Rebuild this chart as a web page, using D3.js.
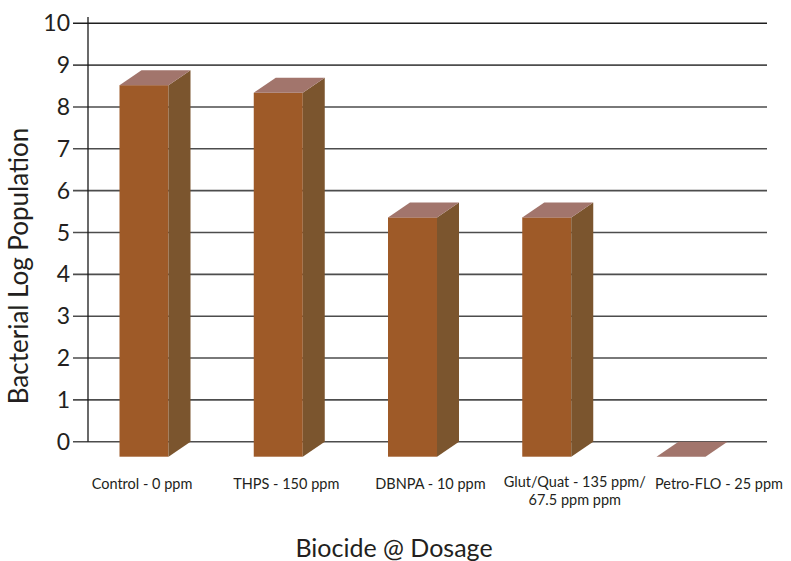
<!DOCTYPE html>
<html>
<head>
<meta charset="utf-8">
<script src="https://cdn.jsdelivr.net/npm/d3@7"></script>
<style>
  body { margin: 0; background: #fff; }
  svg { display: block; }
</style>
</head>
<body>
<div id="chart"></div>
<script>
var categories = ['Control - 0 ppm', 'THPS - 150 ppm', 'DBNPA - 10 ppm', 'Glut/Quat - 135 ppm/\n67.5 ppm ppm', 'Petro-FLO - 25  ppm'];
var logPopulation = [8.88, 8.7, 5.72, 5.72, 0];
var yTicks = [0, 1, 2, 3, 4, 5, 6, 7, 8, 9, 10];

var colors = {
  front: '#9E5A28',
  side: '#7B552E',
  top: '#A2756C',
  text: '#231F20',
  grid: '#4D4D4D'
};

var dims = {
  width: 791,
  height: 561,
  axisX: 88,
  gridLeft: 73,
  gridRight: 767,
  barWidth: 49,
  depthX: 22,
  depthY: 15
};

var svg = d3.select('#chart').append('svg')
  .attr('width', dims.width)
  .attr('height', dims.height);

var y = d3.scaleLinear().domain([0, 10]).range([441.7, 23.3]);
var x = d3.scalePoint().domain(categories).range([144, 681]);
var xLabel = d3.scalePoint().domain(categories).range([142, 719]);

var font = 'Lato, "Open Sans", sans-serif';

// gridlines + tick labels
var drawYAxis = function() {
  svg.selectAll('line.grid')
    .data(yTicks)
    .enter().append('line')
    .attr('class', 'grid')
    .attr('x1', dims.gridLeft)
    .attr('x2', dims.gridRight)
    .attr('y1', function(d) { return y(d); })
    .attr('y2', function(d) { return y(d); })
    .attr('stroke', function(d) { return d === 10 ? '#1f1f1f' : colors.grid; })
    .attr('stroke-width', 1.6);

  svg.selectAll('text.ytick')
    .data(yTicks)
    .enter().append('text')
    .attr('class', 'ytick')
    .attr('x', 70)
    .attr('y', function(d) { return y(d); })
    .attr('dy', '0.35em')
    .attr('text-anchor', 'end')
    .attr('fill', colors.text)
    .attr('font-family', font)
    .attr('font-size', 23)
    .text(function(d) { return d; });

  svg.append('line')
    .attr('x1', dims.axisX)
    .attr('x2', dims.axisX)
    .attr('y1', 17)
    .attr('y2', y(0))
    .attr('stroke', '#1a1a1a')
    .attr('stroke-width', 1.3);
};

var drawBars = function() {
  var g = svg.append('g');
  categories.forEach(function(c, i) {
    var v = logPopulation[i];
    var x0 = x(c) - dims.barWidth / 2;
    var x1 = x(c) + dims.barWidth / 2;
    var yb = y(v), y0 = y(0);
    var dx = dims.depthX, dy = dims.depthY;

    if (v > 0) {
      g.append('rect')
        .attr('x', x0)
        .attr('y', yb + dy)
        .attr('width', x1 - x0)
        .attr('height', y0 - yb)
        .attr('fill', colors.front);

      g.append('polygon')
        .attr('points', [[x1, yb + dy], [x1 + dx, yb], [x1 + dx, y0], [x1, y0 + dy]].join(' '))
        .attr('fill', colors.side);
    }

    g.append('polygon')
      .attr('points', [[x0, yb + dy], [x0 + dx, yb], [x1 + dx, yb], [x1, yb + dy]].join(' '))
      .attr('fill', colors.top);
  });
};

var drawLabels = function() {
  categories.forEach(function(c) {
    var lines = c.split('\n');
    var t = svg.append('text')
      .attr('x', xLabel(c))
      .attr('y', lines.length > 1 ? 487 : 489)
      .attr('text-anchor', 'middle')
      .attr('fill', colors.text)
      .attr('font-family', font)
      .attr('font-size', 14.5);
    lines.forEach(function(l, j) {
      t.append('tspan')
        .attr('x', xLabel(c))
        .attr('dy', j === 0 ? 0 : 18)
        .text(l);
    });
  });

  svg.append('text')
    .attr('x', 394)
    .attr('y', 557)
    .attr('text-anchor', 'middle')
    .attr('fill', colors.text)
    .attr('font-family', font)
    .attr('font-size', 25)
    .text('Biocide @ Dosage');

  svg.append('text')
    .attr('transform', 'translate(28,266) rotate(-90)')
    .attr('text-anchor', 'middle')
    .attr('fill', colors.text)
    .attr('font-family', font)
    .attr('font-size', 26)
    .text('Bacterial Log Population');
};

drawYAxis();
drawBars();
drawLabels();
</script>
</body>
</html>
